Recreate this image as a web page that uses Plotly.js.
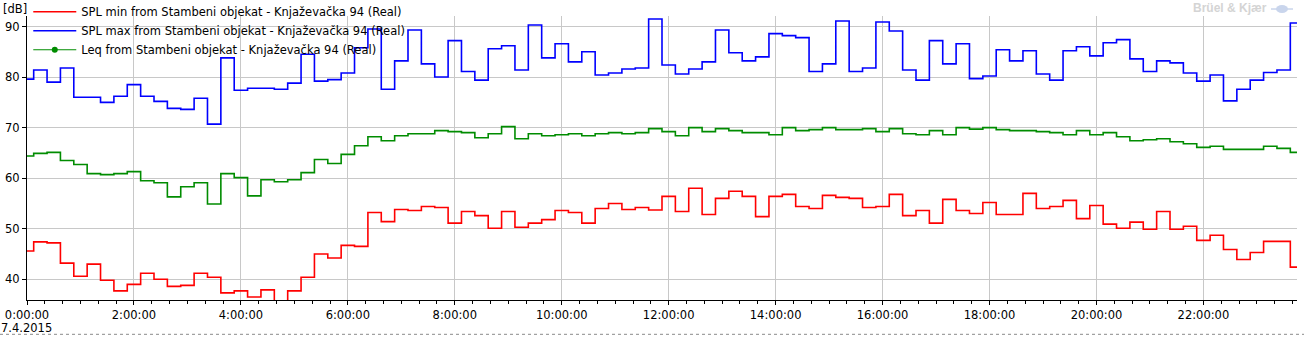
<!DOCTYPE html>
<html>
<head>
<meta charset="utf-8">
<script src="https://cdn.plot.ly/plotly-3.0.1.min.js"></script>
<style>
  html, body { margin: 0; padding: 0; background: #ffffff; }
  #chart { width: 1304px; height: 337px; }
</style>
</head>
<body>
<div id="chart"></div>
<script>
// ---- Data (15-minute intervals, 7.4.2015 00:00 .. 23:45) ----
const startTime = '2015-04-07 00:00:00';
const intervalMinutes = 15;
const dateLabel = '7.4.2015';
const unitLabel = '[dB]';
const brandLabel = 'Brüel & Kjær';

const seriesNames = [
  'SPL min from Stambeni objekat - Knjaževačka 94 (Real)',
  'SPL max from Stambeni objekat - Knjaževačka 94 (Real)',
  'Leq from Stambeni objekat - Knjaževačka 94 (Real)'
];

const splMin = [
  45.6, 47.4, 47.2, 43.2, 40.6, 43.0, 39.8, 37.7, 39.0, 41.2, 40.0, 38.6,
  38.8, 41.2, 40.4, 37.3, 37.7, 36.5, 37.9, 34.8, 37.7, 40.4, 45.0, 44.2,
  46.7, 46.5, 53.2, 51.4, 53.8, 53.6, 54.4, 54.2, 51.1, 53.4, 52.6, 50.1,
  53.4, 50.3, 51.1, 51.8, 53.6, 53.2, 51.1, 54.0, 55.0, 53.8, 54.2, 53.7,
  56.4, 53.4, 58.0, 52.8, 56.0, 57.4, 56.4, 52.4, 56.4, 56.8, 54.4, 54.0,
  56.6, 56.2, 56.0, 54.2, 54.4, 56.8, 52.6, 53.6, 51.1, 55.8, 53.6, 53.0,
  55.2, 52.8, 52.8, 57.0, 54.0, 54.4, 55.6, 52.0, 54.6, 50.9, 50.1, 51.3,
  49.9, 53.4, 49.9, 50.5, 47.7, 48.7, 45.9, 43.9, 45.3, 47.5, 47.5, 42.4
];

const splMax = [
  79.6, 81.4, 79.0, 81.8, 76.0, 76.0, 75.0, 76.2, 78.5, 76.2, 75.2, 73.8,
  73.6, 75.8, 70.7, 83.8, 77.4, 77.8, 77.8, 77.6, 78.8, 84.5, 79.2, 79.5,
  80.8, 85.8, 89.5, 77.6, 83.2, 89.3, 82.6, 80.0, 87.2, 81.1, 79.4, 85.6,
  86.2, 81.4, 90.3, 83.8, 86.6, 83.0, 85.0, 80.4, 80.8, 81.6, 81.8, 91.5,
  82.4, 80.6, 81.6, 83.0, 89.3, 84.8, 83.2, 84.0, 88.6, 88.2, 87.8, 81.1,
  82.6, 91.1, 81.1, 81.8, 90.9, 89.1, 81.4, 79.4, 87.2, 82.6, 86.6, 79.7,
  80.2, 85.4, 83.2, 85.2, 80.6, 79.4, 85.2, 86.0, 84.2, 86.8, 87.4, 83.6,
  81.1, 83.2, 82.8, 80.8, 79.2, 80.4, 75.3, 77.6, 79.4, 80.9, 81.4, 90.7
];

const leq = [
  64.4, 64.9, 65.1, 63.5, 62.7, 60.9, 60.7, 60.9, 61.3, 59.5, 59.1, 56.3,
  58.3, 59.1, 54.9, 60.9, 60.1, 56.5, 59.7, 59.3, 59.7, 61.1, 63.7, 62.9,
  64.7, 66.4, 68.2, 67.4, 68.4, 68.8, 68.8, 69.4, 69.2, 69.0, 68.0, 68.8,
  70.2, 67.8, 68.8, 68.4, 68.6, 68.8, 68.4, 68.8, 69.0, 68.8, 69.0, 69.8,
  69.2, 68.4, 70.0, 69.2, 69.8, 69.4, 69.0, 69.0, 68.6, 70.0, 69.4, 69.6,
  70.0, 69.6, 69.6, 69.8, 69.2, 69.8, 68.8, 68.6, 69.4, 68.6, 70.0, 69.7,
  70.0, 69.6, 69.4, 69.4, 69.2, 69.0, 68.6, 69.4, 68.6, 69.0, 68.2, 67.4,
  67.6, 67.8, 67.2, 66.8, 66.1, 66.3, 65.7, 65.7, 65.7, 66.3, 65.9, 65.1
];

const seriesColors = ['#ff0000', '#0000ff', '#008c00'];

// ---- Time stamps of each 15-minute interval ----
function pad(n) { return (n < 10 ? '0' : '') + n; }
function buildTimes(count) {
  const base = new Date(startTime.replace(' ', 'T') + 'Z').getTime();
  const out = [];
  for (let i = 0; i < count; i++) {
    const d = new Date(base + i * intervalMinutes * 60000);
    out.push(d.getUTCFullYear() + '-' + pad(d.getUTCMonth() + 1) + '-' + pad(d.getUTCDate()) +
      ' ' + pad(d.getUTCHours()) + ':' + pad(d.getUTCMinutes()) + ':' + pad(d.getUTCSeconds()));
  }
  return out;
}
const times = buildTimes(leq.length);

const FONT = 'DejaVu Sans, Verdana, sans-serif';
const FS = 11.5;

const traces = [
  { x: times, y: splMin, name: seriesNames[0], type: 'scatter', mode: 'lines',
    line: { color: seriesColors[0], width: 1.6, shape: 'hvh' } },
  { x: times, y: splMax, name: seriesNames[1], type: 'scatter', mode: 'lines',
    line: { color: seriesColors[1], width: 1.6, shape: 'hvh' } },
  { x: times, y: leq, name: seriesNames[2], type: 'scatter', mode: 'lines',
    line: { color: seriesColors[2], width: 1.6, shape: 'hvh' }, showlegend: false },
  // legend entry (line + dot) for Leq; its single point is empty, so nothing is plotted
  { x: [null], y: [null], name: seriesNames[2], type: 'scatter', mode: 'lines+markers',
    line: { color: seriesColors[2], width: 1 }, marker: { color: seriesColors[2], size: 6 },
    showlegend: true, hoverinfo: 'skip' }
];

const layout = {
  width: 1304, height: 337,
  margin: { l: 27, r: 7, t: 16, b: 37, autoexpand: false },
  paper_bgcolor: '#ffffff', plot_bgcolor: '#ffffff',
  font: { family: FONT, size: FS, color: '#000000' },
  showlegend: true,
  legend: {
    x: 0.001, xanchor: 'left', y: 1.066, yanchor: 'top',
    bgcolor: 'rgba(0,0,0,0)', borderwidth: 0,
    font: { family: FONT, size: 11.5, color: '#000000' },
    itemwidth: 43, traceorder: 'normal'
  },
  xaxis: {
    type: 'date',
    range: [times[0], times[times.length - 1]],
    tick0: startTime, dtick: 2 * 3600 * 1000,
    tickformat: '%-H:%M:%S',
    showgrid: true, gridcolor: '#c8c8c8', gridwidth: 1,
    showline: true, linecolor: '#000000', linewidth: 1,
    ticks: 'outside', ticklen: 4, tickcolor: '#000000', tickwidth: 1,
    minor: { dtick: 20 * 60 * 1000, ticks: 'outside', ticklen: 3, tickcolor: '#000000', showgrid: false },
    zeroline: false, fixedrange: true,
    tickfont: { family: FONT, size: FS, color: '#000000' }
  },
  yaxis: {
    range: [35.9, 92.08],
    tick0: 40, dtick: 10,
    showgrid: true, gridcolor: '#c8c8c8', gridwidth: 1,
    showline: true, linecolor: '#000000', linewidth: 1,
    ticks: 'outside', ticklen: 4, tickcolor: '#000000', tickwidth: 1,
    zeroline: false, fixedrange: true,
    tickfont: { family: FONT, size: FS, color: '#000000' }
  },
  annotations: [
    { text: unitLabel, xref: 'paper', yref: 'paper', x: -27 / 1270, y: 1.0229,
      xanchor: 'left', yanchor: 'middle', showarrow: false, xshift: 1,
      font: { family: FONT, size: FS, color: '#000000' } },
    { text: dateLabel, xref: 'paper', yref: 'paper', x: -27 / 1270, y: -0.0986,
      xanchor: 'left', yanchor: 'middle', showarrow: false, xshift: -1,
      font: { family: FONT, size: FS, color: '#000000' } },
    { text: '<b>' + brandLabel + '</b>', xref: 'paper', yref: 'paper', x: 0.947, y: 1.028,
      xanchor: 'center', yanchor: 'middle', showarrow: false,
      font: { family: 'Liberation Sans, Arial, sans-serif', size: 12, color: '#d4d4d4' } }
  ],
  shapes: [
    { type: 'line', xref: 'paper', yref: 'paper', x0: -27 / 1270, x1: 1277 / 1270,
      y0: -0.1208, y1: -0.1208, line: { color: '#8a8a8a', width: 1, dash: 'dot' } },
    { type: 'circle', xref: 'paper', yref: 'paper', x0: 1249 / 1270, x1: 1261 / 1270,
      y0: 1.0106, y1: 1.0387, fillcolor: '#c9d5ec', line: { width: 0 } },
    { type: 'line', xref: 'paper', yref: 'paper', x0: 1244 / 1270, x1: 1266 / 1270,
      y0: 1.0246, y1: 1.0246, line: { color: '#c9d5ec', width: 1.5 } }
  ]
};

Plotly.newPlot('chart', traces, layout, { staticPlot: true, displayModeBar: false });
</script>
</body>
</html>
